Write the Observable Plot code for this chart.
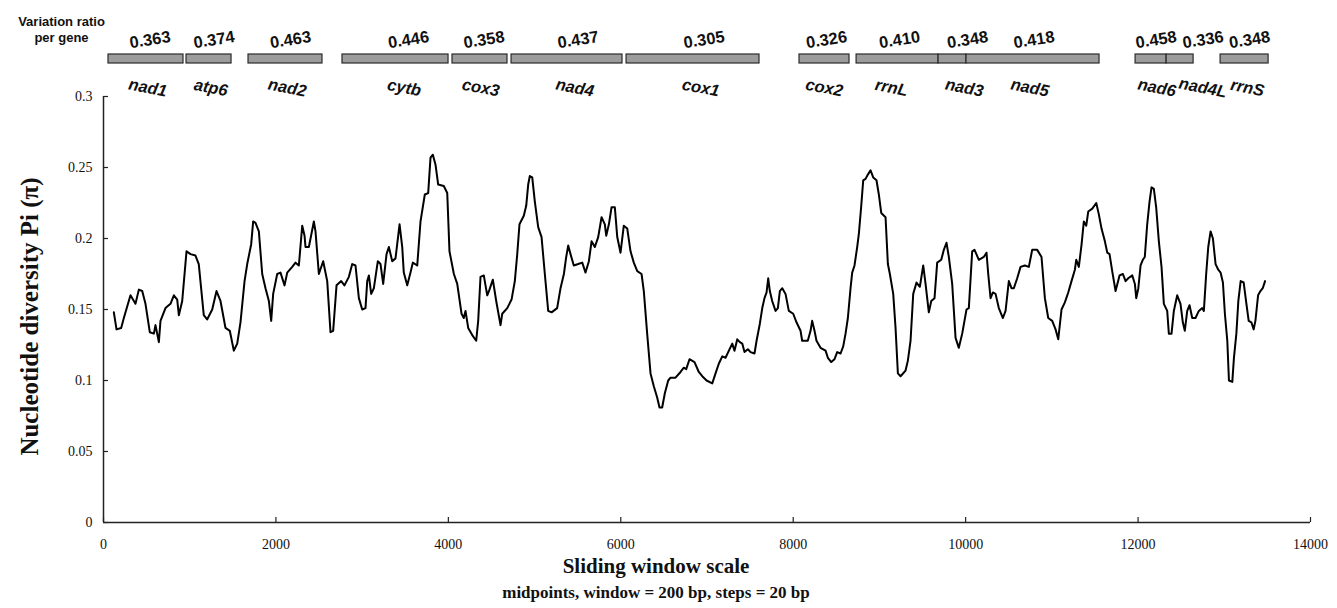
<!DOCTYPE html>
<html><head><meta charset="utf-8">
<script src="https://cdn.jsdelivr.net/npm/d3@7"></script>
<script src="https://cdn.jsdelivr.net/npm/@observablehq/plot@0.6"></script>
<style>body{margin:0;background:#fff} #chart{width:1337px;height:608px}</style>
</head><body><div id="chart"></div>
<script>
// Sliding-window midpoints (bp) and nucleotide diversity Pi
const positions = [120,151,205,236,313,371,410,449,487,537,584,603,642,661,719,777,816,855,874,913,963,1009,1067,1105,1163,1202,1261,1311,1357,1415,1465,1512,1551,1589,1636,1667,1713,1736,1763,1802,1841,1879,1918,1945,1968,2015,2053,2100,2131,2189,2227,2266,2305,2332,2343,2382,2440,2459,2498,2548,2595,2633,2664,2703,2757,2795,2846,2885,2923,2962,3001,3039,3059,3078,3105,3136,3182,3213,3244,3283,3310,3349,3387,3434,3465,3483,3523,3561,3588,3639,3677,3727,3766,3793,3820,3851,3882,3947,3987,4013,4064,4103,4153,4179,4199,4230,4277,4323,4346,4373,4411,4451,4477,4516,4555,4605,4625,4683,4733,4771,4799,4825,4875,4903,4926,4945,4973,5003,5042,5081,5119,5158,5197,5262,5301,5340,5367,5390,5417,5455,5506,5553,5591,5630,5661,5699,5738,5777,5815,5831,5862,5893,5931,5959,5997,6035,6075,6113,6151,6191,6241,6267,6306,6345,6383,6422,6449,6480,6511,6550,6577,6635,6693,6731,6759,6797,6855,6905,6945,6995,7061,7099,7138,7177,7215,7254,7293,7319,7351,7381,7409,7435,7474,7505,7551,7575,7613,7641,7667,7691,7710,7729,7756,7795,7822,7845,7873,7911,7949,8000,8038,8085,8104,8169,8201,8220,8247,8270,8317,8375,8402,8441,8479,8510,8549,8580,8607,8634,8665,8684,8711,8742,8761,8789,8812,8839,8866,8897,8928,8966,8993,9021,9071,9098,9121,9160,9187,9214,9245,9303,9330,9361,9392,9430,9469,9508,9535,9573,9601,9639,9670,9717,9747,9778,9805,9844,9883,9921,9960,10010,10037,10076,10103,10153,10211,10242,10262,10289,10316,10347,10385,10432,10463,10501,10532,10559,10598,10637,10687,10733,10772,10830,10880,10919,10958,11004,11043,11074,11112,11151,11190,11228,11267,11283,11313,11345,11371,11399,11422,11469,11515,11545,11576,11615,11643,11669,11700,11739,11785,11824,11855,11886,11933,11963,11979,12003,12029,12055,12078,12106,12133,12156,12183,12210,12241,12272,12299,12338,12357,12388,12415,12454,12492,12519,12542,12570,12597,12628,12666,12705,12744,12763,12790,12814,12841,12868,12899,12930,12957,12984,13007,13035,13054,13093,13112,13140,13163,13190,13225,13252,13283,13314,13341,13361,13392,13419,13446,13473];
const diversity = [.148,.136,.137,.144,.160,.154,.164,.163,.154,.134,.133,.139,.127,.142,.151,.154,.160,.157,.146,.156,.191,.189,.188,.182,.146,.143,.150,.163,.156,.137,.135,.121,.126,.141,.170,.182,.196,.212,.211,.205,.175,.165,.156,.142,.161,.175,.176,.167,.176,.180,.183,.181,.209,.202,.194,.194,.212,.205,.175,.184,.170,.134,.135,.167,.170,.167,.173,.182,.181,.158,.150,.151,.170,.174,.161,.165,.184,.182,.168,.189,.194,.184,.186,.210,.194,.176,.167,.176,.183,.181,.212,.231,.232,.257,.259,.252,.238,.237,.232,.191,.175,.168,.147,.144,.149,.137,.132,.128,.142,.173,.174,.160,.164,.171,.156,.139,.147,.151,.157,.170,.189,.210,.216,.223,.238,.244,.243,.226,.208,.201,.175,.149,.148,.151,.165,.175,.187,.195,.189,.181,.182,.183,.176,.184,.198,.194,.201,.215,.210,.202,.210,.222,.222,.201,.190,.209,.207,.191,.183,.177,.175,.163,.133,.105,.096,.088,.081,.081,.091,.100,.102,.102,.106,.109,.108,.115,.113,.106,.103,.100,.098,.105,.112,.117,.116,.121,.126,.121,.129,.127,.126,.120,.122,.120,.119,.128,.140,.151,.158,.162,.172,.163,.156,.149,.151,.163,.165,.161,.149,.147,.141,.135,.128,.128,.135,.142,.135,.128,.123,.121,.116,.113,.115,.120,.119,.124,.133,.144,.165,.176,.181,.194,.203,.223,.241,.242,.245,.248,.243,.241,.231,.218,.215,.182,.175,.161,.137,.105,.103,.107,.114,.128,.161,.169,.166,.181,.168,.148,.156,.158,.183,.185,.192,.197,.187,.168,.130,.123,.133,.150,.151,.191,.192,.185,.187,.190,.175,.158,.162,.161,.151,.144,.149,.170,.165,.165,.172,.180,.181,.180,.192,.192,.187,.158,.144,.142,.136,.129,.150,.155,.162,.170,.178,.185,.180,.196,.212,.209,.219,.221,.225,.217,.207,.198,.190,.189,.177,.163,.174,.175,.170,.172,.174,.168,.158,.165,.181,.185,.187,.210,.226,.236,.235,.222,.198,.180,.154,.149,.133,.133,.149,.160,.154,.141,.135,.149,.153,.144,.144,.149,.151,.149,.175,.194,.205,.200,.182,.178,.176,.169,.147,.128,.100,.099,.116,.133,.156,.170,.169,.156,.142,.141,.136,.142,.160,.163,.165,.170];

// Gene map
const geneNames = ["nad1","atp6","nad2","cytb","cox3","nad4","cox1","cox2","rrnL","nad3","nad5","nad6","nad4L","rrnS"];
const geneStart = [58,963,1682,2772,4048,4733,6067,8073,8735,9686,10010,11971,12331,12957];
const geneEnd   = [928,1485,2540,4002,4686,6020,7609,8653,9686,10010,11553,12331,12644,13514];
const geneRatio = ["0.363","0.374","0.463","0.446","0.358","0.437","0.305","0.326","0.410","0.348","0.418","0.458","0.336","0.348"];

// Axis ticks
const xTicks = [0,2000,4000,6000,8000,10000,12000,14000];
const yTicks = [0,0.05,0.1,0.15,0.2,0.25,0.3];
const yTickLabels = ["0","0.05","0.1","0.15","0.2","0.25","0.3"];

// ---- layout & style (not data) ----
const W = 1337, H = 608, mL = 103, mR = 27, mT = 96, mB = 86;
const frameW = W - mL - mR, frameH = H - mT - mB;
const bpPerPx = 14000 / frameW;
const valueNudgePx = [3,4,4,12,3,10,10,1,1,14,0,4,22,4];
const nameNudgePx  = [3,3,3,10,2,9,9,1,-5,13,-2,7,24,4];

const series = positions.map((x, i) => ({x, pi: diversity[i]}));
const genes = geneNames.map((name, i) => ({
  name, start: geneStart[i], end: geneEnd[i], ratio: geneRatio[i],
  vx: (geneStart[i] + geneEnd[i]) / 2 + valueNudgePx[i] * bpPerPx,
  nx: (geneStart[i] + geneEnd[i]) / 2 + nameNudgePx[i] * bpPerPx
}));

const serif = "'Liberation Serif','Times New Roman',serif";
const sans = "'Liberation Sans',Arial,sans-serif";

const chart = Plot.plot({
  width: W, height: H,
  marginLeft: mL, marginRight: mR, marginTop: mT, marginBottom: mB,
  style: {background: "#fff", overflow: "visible"},
  x: {domain: [0, 14000]},
  y: {domain: [0, 0.3]},
  marks: [
    Plot.axisX({ticks: xTicks, tickSize: 0, tickPadding: 17, fontSize: 14, fontFamily: serif, fill: "#111", label: null,
      tickFormat: (d) => String(d)}),
    Plot.axisY({ticks: yTicks, tickSize: 0, tickPadding: 11, fontSize: 14, fontFamily: serif, fill: "#111", label: null,
      tickFormat: (d) => yTickLabels[yTicks.indexOf(d)]}),
    Plot.tickX(xTicks, {x: d => d, insetTop: frameH - 5, stroke: "#222", strokeWidth: 1.2}),
    Plot.tickY(yTicks, {y: d => d, insetRight: frameW - 5, stroke: "#222", strokeWidth: 1.2}),
    Plot.ruleY([0], {stroke: "#222", strokeWidth: 1.5}),
    Plot.ruleX([0], {stroke: "#222", strokeWidth: 1.5}),
    Plot.line(series, {x: "x", y: "pi", stroke: "#000", strokeWidth: 2}),
    // gene bars
    Plot.rect(genes, {x1: "start", x2: "end", insetTop: -(mT - 54), insetBottom: frameH + (mT - 63),
      fill: "#9c9c9c", stroke: "#2b2b2b", strokeWidth: 1.2}),
    Plot.text(genes, {x: "vx", text: "ratio", frameAnchor: "top", dy: -63, rotate: -9,
      fontSize: 16.5, fontWeight: "bold", fontFamily: sans, fill: "#111"}),
    Plot.text(genes, {x: "nx", text: "name", frameAnchor: "top", dy: -15, rotate: 11,
      fontSize: 16.5, fontWeight: "bold", fontStyle: "italic", fontFamily: sans, fill: "#111"}),
    Plot.text(["Variation ratio\nper gene"], {frameAnchor: "top-left", dx: -42, dy: -83, textAnchor: "middle",
      lineAnchor: "top", lineHeight: 1.3, fontSize: 13, fontWeight: "bold", fontFamily: sans, fill: "#111"}),
    // axis titles
    Plot.text(["Nucleotide diversity Pi (\u03c0)"], {frameAnchor: "left", textAnchor: "middle", dx: -74, dy: 7, rotate: -90,
      fontSize: 25, fontWeight: "bold", fontFamily: serif, fill: "#111"}),
    Plot.text(["Sliding window scale"], {frameAnchor: "bottom", dx: -51, dy: 50,
      fontSize: 21, fontWeight: "bold", fontFamily: serif, fill: "#111"}),
    Plot.text(["midpoints, window = 200 bp, steps = 20 bp"], {frameAnchor: "bottom", dx: -51, dy: 75,
      fontSize: 17, fontWeight: "bold", fontFamily: serif, fill: "#111"})
  ]
});
document.getElementById("chart").appendChild(chart);
</script>
</body></html>
